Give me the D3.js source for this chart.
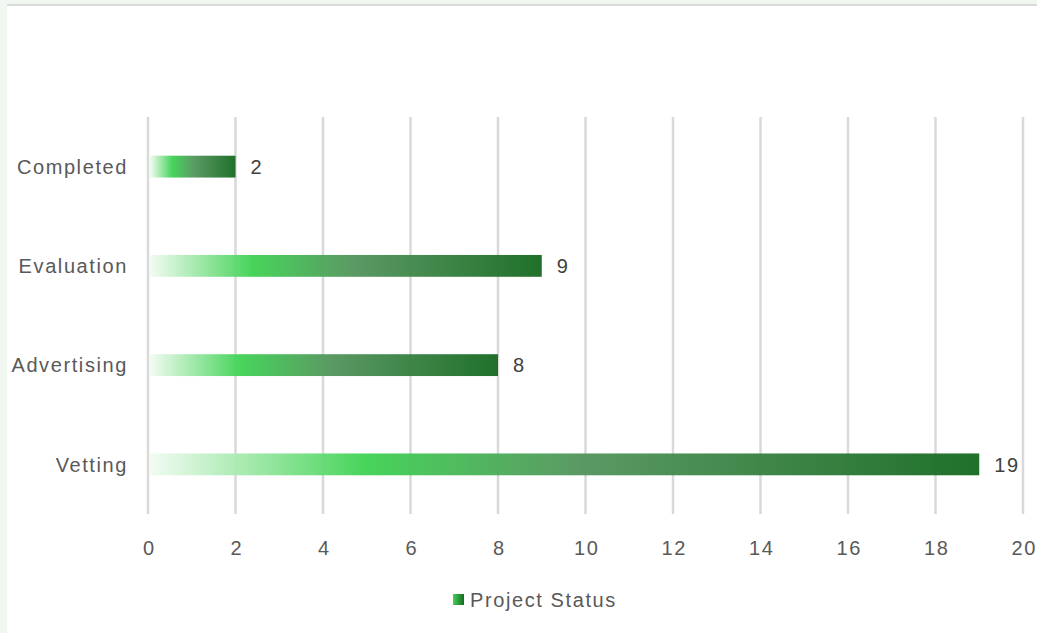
<!DOCTYPE html>
<html>
<head>
<meta charset="utf-8">
<script src="https://cdn.jsdelivr.net/npm/d3@7"></script>
<style>
  body { margin: 0; background: #fff; }
  svg { display: block; font-family: "Liberation Sans", Arial, sans-serif; }
  text { letter-spacing: 1.6px; }
</style>
</head>
<body>
<svg id="chart"></svg>
<script>
let categories = ["Completed", "Evaluation", "Advertising", "Vetting"];
let values = [2, 9, 8, 19];
let tickValues = [0, 2, 4, 6, 8, 10, 12, 14, 16, 18, 20];
let seriesName = "Project Status";

let w = 1037;
let h = 633;
let fontFam = "\"Liberation Sans\", Arial, sans-serif";

let svg = d3.select("#chart")
    .attr("width", w)
    .attr("height", h);

// page frame like the screenshot
svg.append("rect").attr("x", 0).attr("y", 0).attr("width", w).attr("height", h).attr("fill", "#f0f6f0");
svg.append("rect").attr("x", 7).attr("y", 4).attr("width", w - 7).attr("height", h - 4).attr("fill", "#ffffff");
svg.append("rect").attr("x", 7).attr("y", 4).attr("width", w - 7).attr("height", 2).attr("fill", "#dadada");

let plotTop = 117, plotBottom = 514;

let x = d3.scaleLinear()
    .domain([0, 20])
    .range([148, 1023]);

let y = d3.scaleBand()
    .domain(categories)
    .range([plotTop, plotBottom])
    .paddingInner(0.78)
    .paddingOuter(0.39);

let defs = svg.append("defs");
let grad = defs.append("linearGradient")
    .attr("id", "barGrad")
    .attr("x1", "0%").attr("x2", "100%")
    .attr("y1", "0%").attr("y2", "0%");
grad.append("stop").attr("offset", "0%").attr("stop-color", "#f2fbf2");
grad.append("stop").attr("offset", "26%").attr("stop-color", "#40d254");
grad.append("stop").attr("offset", "52%").attr("stop-color", "#54955d");
grad.append("stop").attr("offset", "100%").attr("stop-color", "#176a22");

// gridlines
svg.append("g")
    .selectAll("line")
    .data(tickValues)
    .enter()
    .append("line")
    .attr("x1", d => x(d))
    .attr("x2", d => x(d))
    .attr("y1", plotTop)
    .attr("y2", plotBottom)
    .attr("stroke", "#d9d9d9")
    .attr("stroke-width", 2.5);

// bars
svg.append("g")
    .selectAll("rect")
    .data(values)
    .enter()
    .append("rect")
    .attr("x", x(0) + 2)
    .attr("y", (d, i) => y(categories[i]))
    .attr("width", d => x(d) - x(0) - 2)
    .attr("height", y.bandwidth())
    .attr("fill", "url(#barGrad)")
    .attr("fill-opacity", 0.96);

// value labels
svg.append("g")
    .selectAll("text")
    .data(values)
    .enter()
    .append("text")
    .text(d => d)
    .attr("x", d => x(d) + 15)
    .attr("y", (d, i) => y(categories[i]) + y.bandwidth() / 2)
    .attr("dy", "0.36em")
    .attr("font-size", "20px")
    .attr("fill", "#404040");

// category labels
svg.append("g")
    .selectAll("text")
    .data(categories)
    .enter()
    .append("text")
    .text(d => d)
    .attr("x", 128)
    .attr("y", d => y(d) + y.bandwidth() / 2)
    .attr("dy", "0.36em")
    .attr("text-anchor", "end")
    .attr("font-size", "20px")
    .attr("fill", "#595959");

// x axis labels
let xAxis = svg.append("g")
    .attr("transform", "translate(0," + 548 + ")")
    .call(d3.axisBottom(x).tickValues(tickValues).tickSize(0).tickPadding(0));
xAxis.select(".domain").remove();
xAxis.selectAll("text")
    .attr("dy", "0.36em")
    .attr("dx", "0.04em")
    .attr("font-size", "20px")
    .attr("font-family", fontFam)
    .attr("fill", "#595959");

// legend
let legGrad = defs.append("linearGradient")
    .attr("id", "legGrad")
    .attr("x1", "0%").attr("x2", "100%");
legGrad.append("stop").attr("offset", "0%").attr("stop-color", "#40d254");
legGrad.append("stop").attr("offset", "100%").attr("stop-color", "#176a22");

svg.append("rect")
    .attr("x", 453).attr("y", 594)
    .attr("width", 11).attr("height", 11)
    .attr("fill", "url(#legGrad)");
svg.append("text")
    .text(seriesName)
    .attr("x", 470).attr("y", 600)
    .attr("dy", "0.36em")
    .attr("font-size", "20px")
    .attr("fill", "#595959");
</script>
</body>
</html>
